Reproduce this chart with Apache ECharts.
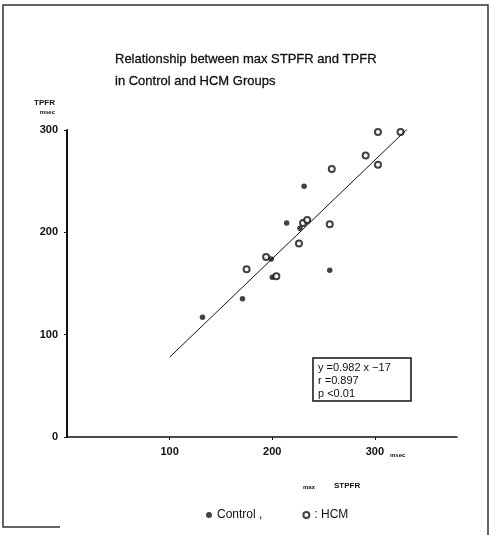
<!DOCTYPE html>
<html>
<head>
<meta charset="utf-8">
<title>max STPFR vs TPFR</title>
<script src="https://cdn.jsdelivr.net/npm/echarts@6/dist/echarts.min.js"></script>
<style>
  html, body { margin: 0; padding: 0; background: #fff; }
  #chart { width: 491px; height: 535px; }
</style>
</head>
<body>
<div id="chart"></div>
<script>
// Control group: [max STPFR, TPFR] in msec
var controlPoints = [
  [132, 117], [171, 135], [199, 174], [200, 156],
  [214, 209], [227, 204], [231, 245], [256, 163]
];
// HCM group
var hcmPoints = [
  [175, 164], [194, 176], [204, 157], [226, 189],
  [230, 209], [234, 212], [256, 208], [258, 262],
  [291, 275], [303, 266], [303, 298], [325, 298]
];
// regression line as drawn (end points)
var fitLine = [[100, 78], [343, 312]];
var xTicks = [100, 200, 300];
var statLines = ['y =0.982 x \u221217', 'r =0.897', 'p <0.01'];

var font = '"Liberation Sans", Arial, sans-serif';
var ink = '#111';

var chart = echarts.init(document.getElementById('chart'));

var option = {
  backgroundColor: '#fff',
  animation: false,
  title: {
    text: 'Relationship between max STPFR and TPFR\nin Control and HCM Groups',
    left: 110,
    top: 43,
    textStyle: {
      fontFamily: font, fontSize: 13, fontWeight: 'normal', color: ink, lineHeight: 22,
      textBorderColor: ink, textBorderWidth: 0.3
    }
  },
  legend: {
    left: 201,
    top: 504,
    itemWidth: 6,
    itemHeight: 6,
    itemGap: 40,
    data: ['Control', 'HCM'],
    formatter: function (name) {
      return name === 'Control' ? 'Control ,' : ': HCM';
    },
    textStyle: { fontFamily: font, fontSize: 12, color: ink }
  },
  grid: { left: 67, right: 34, top: 130, bottom: 98 },
  xAxis: {
    type: 'value',
    min: 0,
    max: 380,
    interval: 100,
    splitLine: { show: false },
    axisLine: { lineStyle: { color: ink, width: 1.5 } },
    axisTick: { customValues: xTicks, length: 3, lineStyle: { color: ink } },
    axisLabel: { customValues: xTicks, margin: 9, fontFamily: font, fontSize: 11, fontWeight: 'bold', color: ink }
  },
  yAxis: {
    type: 'value',
    min: 0,
    max: 300,
    interval: 100,
    name: '{a|TPFR}\n{b|msec}',
    nameLocation: 'end',
    nameGap: 13,
    nameTextStyle: {
      align: 'right',
      padding: [0, 12, 0, 0],
      rich: {
        a: { fontFamily: font, fontSize: 8, fontWeight: 'bold', color: ink, lineHeight: 11 },
        b: { fontFamily: font, fontSize: 6, fontWeight: 'bold', color: ink, lineHeight: 9 }
      }
    },
    splitLine: { show: false },
    axisLine: { lineStyle: { color: ink, width: 2 } },
    axisTick: { length: 3, lineStyle: { color: ink } },
    axisLabel: { margin: 9, fontFamily: font, fontSize: 11, fontWeight: 'bold', color: ink }
  },
  series: [
    {
      name: 'Control',
      type: 'scatter',
      symbol: 'circle',
      symbolSize: 5.5,
      itemStyle: { color: ink },
      data: controlPoints
    },
    {
      name: 'HCM',
      type: 'scatter',
      symbol: 'emptyCircle',
      symbolSize: 6,
      itemStyle: { color: ink, borderColor: ink, borderWidth: 1.2 },
      data: hcmPoints
    },
    {
      name: 'fit',
      type: 'line',
      symbol: 'none',
      silent: true,
      lineStyle: { color: ink, width: 1 },
      data: fitLine
    }
  ],
  graphic: [
    // scanned page frame
    {
      type: 'polyline',
      shape: { points: [[60, 527], [3, 527], [3, 5], [488, 5], [488, 535]] },
      style: { stroke: '#333', lineWidth: 1.5, fill: null }
    },
    // x axis units and name
    { type: 'text', left: 390, top: 452, style: { text: 'msec', font: 'bold 6px ' + font, fill: ink } },
    { type: 'text', left: 303, top: 484, style: { text: 'max', font: 'bold 6px ' + font, fill: ink } },
    { type: 'text', left: 334, top: 482, style: { text: 'STPFR', font: 'bold 8px ' + font, fill: ink } },
    // statistics box
    {
      type: 'rect',
      shape: { x: 313, y: 358, width: 98, height: 43 },
      style: { stroke: ink, lineWidth: 1.5, fill: '#fff' }
    },
    { type: 'text', left: 318, top: 362, style: { text: statLines[0], font: '11px ' + font, fill: ink } },
    { type: 'text', left: 318, top: 375, style: { text: statLines[1], font: '11px ' + font, fill: ink } },
    { type: 'text', left: 318, top: 388, style: { text: statLines[2], font: '11px ' + font, fill: ink } }
  ]
};

chart.setOption(option);
</script>
</body>
</html>
